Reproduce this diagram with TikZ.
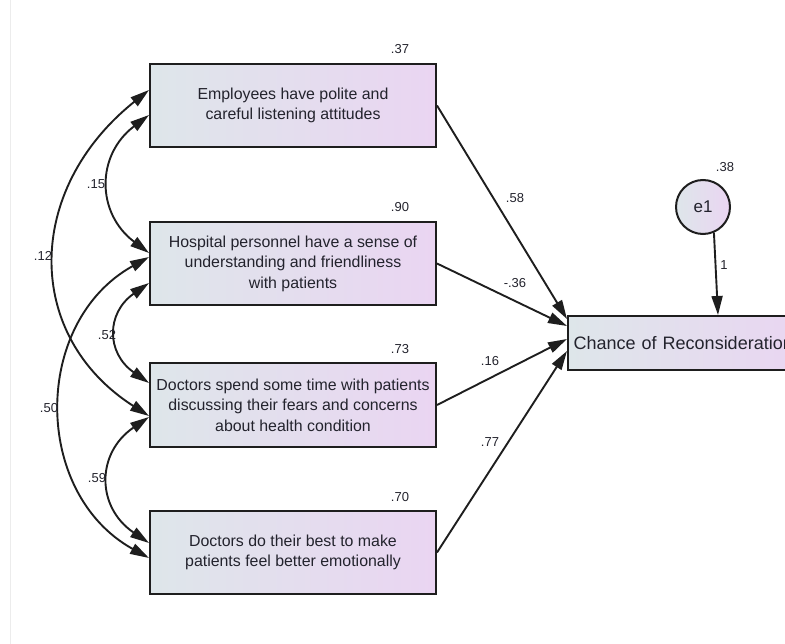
\documentclass[tikz,border=0pt]{standalone}
\usepackage{fontspec}
\setmainfont{Liberation Sans}
\usetikzlibrary{arrows.meta,calc}
\definecolor{gl}{RGB}{222,230,234}
\definecolor{gr}{RGB}{234,213,242}
\definecolor{ln}{RGB}{30,30,30}
\definecolor{tx}{RGB}{35,35,45}
\definecolor{faint}{RGB}{236,236,236}
\begin{document}
\begin{tikzpicture}[x=1pt,y=-1pt,
  obs/.style={draw=ln, line width=2pt, left color=gl, right color=gr,
    minimum width=286pt, minimum height=83pt, align=center,
    font=\fontsize{15.9}{20.5}\selectfont, text=tx, inner sep=0pt},
  lab/.style={font=\fontsize{13}{15}\selectfont, text=tx, inner sep=0pt},
  tip/.tip={Triangle[length=19pt,width=11pt]},
  arr/.style={line width=1.9pt, draw=ln, -tip},
  cov/.style={line width=1.9pt, draw=ln, tip-tip}
]
\useasboundingbox (0,0) rectangle (785,644);
\clip (0,0) rectangle (785,644);
\draw[faint, line width=1pt] (10,0) -- (10,644);

% observed variables
\node[obs] (b1) at (293,105.5) {Employees have polite and\\careful listening attitudes};
\node[obs] (b2) at (293,263.5) {Hospital personnel have a sense of\\understanding and friendliness\\with patients};
\node[obs] (b3) at (293,405) {Doctors spend some time with patients\\discussing their fears and concerns\\about health condition};
\node[obs] (b4) at (293,552.5) {Doctors do their best to make\\patients feel better emotionally};

% dependent variable (cut off at the right edge, as in the reference)
\node[draw=ln, line width=2pt, left color=gl, right color=gr, anchor=north west,
  minimum height=54pt, text width=230pt, align=left, inner xsep=5.7pt,
  font=\fontsize{18}{21}\selectfont, text=tx] (t) at (567,315) {Chance of Reconsideration};

% error term
\node[circle, draw=ln, line width=2pt, left color=gl, right color=gr,
  minimum size=54pt, inner sep=0pt, font=\fontsize{17}{20}\selectfont, text=tx] (e1) at (703,207) {e1};

% regression paths
\draw[arr] (b1.east) -- ([yshift=24pt]t.west);
\draw[arr] (b2.east) -- ([yshift=17pt]t.west);
\draw[arr] (b3.east) -- ([yshift=4pt]t.west);
\draw[arr] (b4.east) -- ([yshift=-8pt]t.west);
\draw[arr] (e1.-67) -- ([xshift=151pt]t.north west);

% covariances
\draw[cov] ([yshift=-9.5pt]b1.west) .. controls +(-53,40) and +(-53,-40) .. ([yshift=10.5pt]b2.west);
\draw[cov] ([yshift=15.5pt]b1.west) .. controls +(-125,100) and +(-125,-80) .. ([yshift=-11pt]b3.west);
\draw[cov] ([yshift=-19.5pt]b2.west) .. controls +(-43,30) and +(-43,-30) .. ([yshift=22pt]b3.west);
\draw[cov] ([yshift=6.5pt]b2.west) .. controls +(-117,65) and +(-117,-65) .. ([yshift=-5.5pt]b4.west);
\draw[cov] ([yshift=-12pt]b3.west) .. controls +(-53,36) and +(-53,-36) .. ([yshift=9.5pt]b4.west);

% labels
\node[lab] (l37) at (400,49) {.37};
\node[lab] (l90) at (400,207) {.90};
\node[lab] (l73) at (400,349) {.73};
\node[lab] (l70) at (400,497) {.70};
\node[lab] (l15) at (96,184) {.15};
\node[lab] (l12) at (43,256) {.12};
\node[lab] (l52) at (107,335) {.52};
\node[lab] (l50) at (49,408) {.50};
\node[lab] (l59) at (97,478) {.59};
\node[lab] (l58) at (515,198) {.58};
\node[lab] (l36) at (515,283) {-.36};
\node[lab] (l16) at (490,361) {.16};
\node[lab] (l77) at (490,442) {.77};
\node[lab] (l38) at (725,167) {.38};
\node[lab] (l1) at (724,265) {1};
\end{tikzpicture}
\end{document}
